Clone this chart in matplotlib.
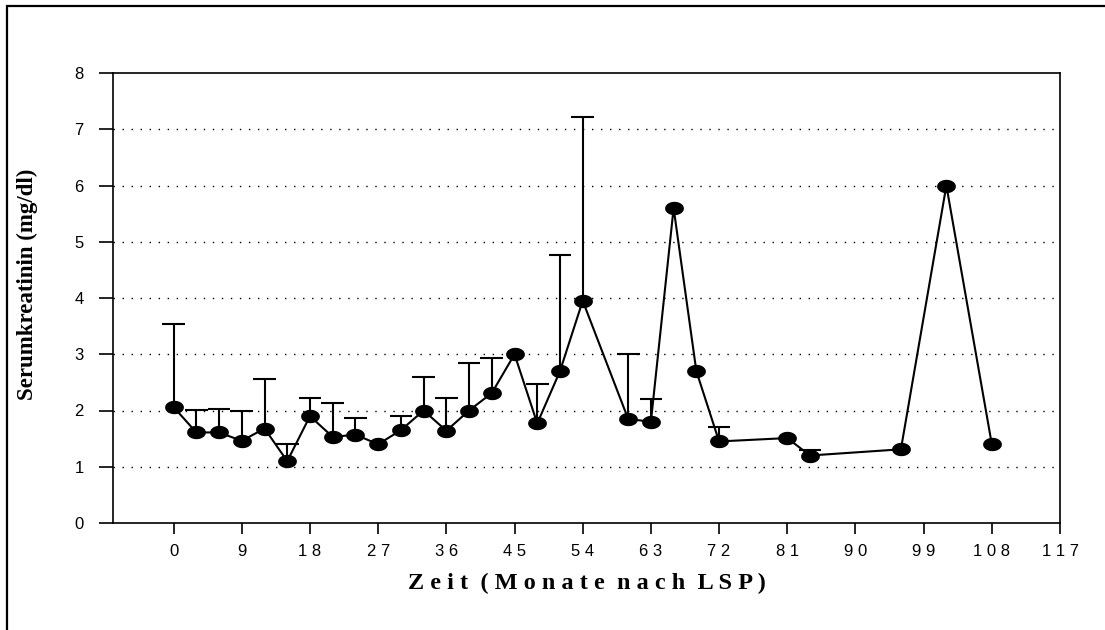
import numpy as np
import matplotlib
matplotlib.use("Agg")
import matplotlib.pyplot as plt
from matplotlib.path import Path
from matplotlib.patches import Rectangle

# --- data ---
months = [0, 3, 6, 9, 12, 15, 18, 21, 24, 27, 30, 33, 36, 39, 42, 45, 48, 51,
          54, 60, 63, 66, 69, 72, 81, 84, 96, 102, 108]
kreatinin = [2.06, 1.61, 1.61, 1.46, 1.68, 1.10, 1.90, 1.53, 1.57, 1.40, 1.65,
             2.00, 1.64, 2.00, 2.31, 3.00, 1.77, 2.70, 3.95, 1.85, 1.80, 5.60,
             2.70, 1.45, 1.51, 1.20, 1.31, 6.00, 1.40]
# upper end of the error bar (None = no bar)
err_top = [3.54, 2.01, 2.03, 2.00, 2.56, 1.40, 2.23, 2.14, 1.87, None, 1.90,
           2.60, 2.23, 2.85, 2.94, None, 2.48, 4.76, 7.21, 3.00, 2.20, None,
           None, 1.71, None, 1.30, None, None, None]

x_ticks = [0, 9, 18, 27, 36, 45, 54, 63, 72, 81, 90, 99, 108, 117]
y_ticks = [0, 1, 2, 3, 4, 5, 6, 7, 8]

plt.rcParams['font.family'] = ['Liberation Sans', 'DejaVu Sans']

fig = plt.figure(figsize=(11.05, 6.3), dpi=100)
ax = fig.add_axes([113 / 1105, 1 - 523 / 630, (1060 - 113) / 1105, (523 - 73) / 630])

# outer frame (only left/top edges visible in the original)
fig.add_artist(Rectangle((7 / 1105, -0.1), 1.2, 1 - 6 / 630 + 0.1,
                         transform=fig.transFigure, fill=False,
                         lw=1.6, ec="black"))

# dotted grid lines
for y in y_ticks[1:-1]:
    ax.axhline(y, color="black", lw=1.0, ls=(0, (1, 5.5)), zorder=1)

# upper error bars with caps
bx = [m for m, e in zip(months, err_top) if e is not None]
by = [v for v, e in zip(kreatinin, err_top) if e is not None]
bt = [e for e in err_top if e is not None]
ax.vlines(bx, by, bt, color="black", lw=1.5, zorder=2)
ax.hlines(bt, np.array(bx) - 1.5, np.array(bx) + 1.5, color="black", lw=1.5, zorder=2)

# ellipse marker
t = np.linspace(0, 2 * np.pi, 60)
ellipse = Path(np.column_stack([1.45 * np.cos(t), np.sin(t)]), closed=True)

ax.plot(months, kreatinin, color="black", lw=1.5, marker=ellipse,
        markersize=12.5, markerfacecolor="black", markeredgecolor="black",
        zorder=3)

ax.set_xlim(-8, 117)
ax.set_ylim(0, 8)
ax.set_xticks(x_ticks)
ax.set_xticklabels([" ".join(str(v)) for v in x_ticks], fontsize=12)
ax.set_yticks(y_ticks)
ax.set_yticklabels([str(v) for v in y_ticks], fontsize=12)
ax.tick_params(axis="y", direction="out", length=10, width=1.2, pad=11)
ax.tick_params(axis="x", direction="out", length=8, width=1.2, pad=7)
for s in ax.spines.values():
    s.set_linewidth(1.2)

ax.set_ylabel("Serumkreatinin (mg/dl)", fontsize=16.5, fontweight="bold",
              family="Liberation Serif")
ax.yaxis.set_label_coords(-0.079, 0.53)
ax.set_xlabel("Z e i t  ( M o n a t e  n a c h  L S P )", fontsize=17.5,
              fontweight="bold", family="Liberation Serif", labelpad=10)

fig.savefig("out.png", dpi=100)
